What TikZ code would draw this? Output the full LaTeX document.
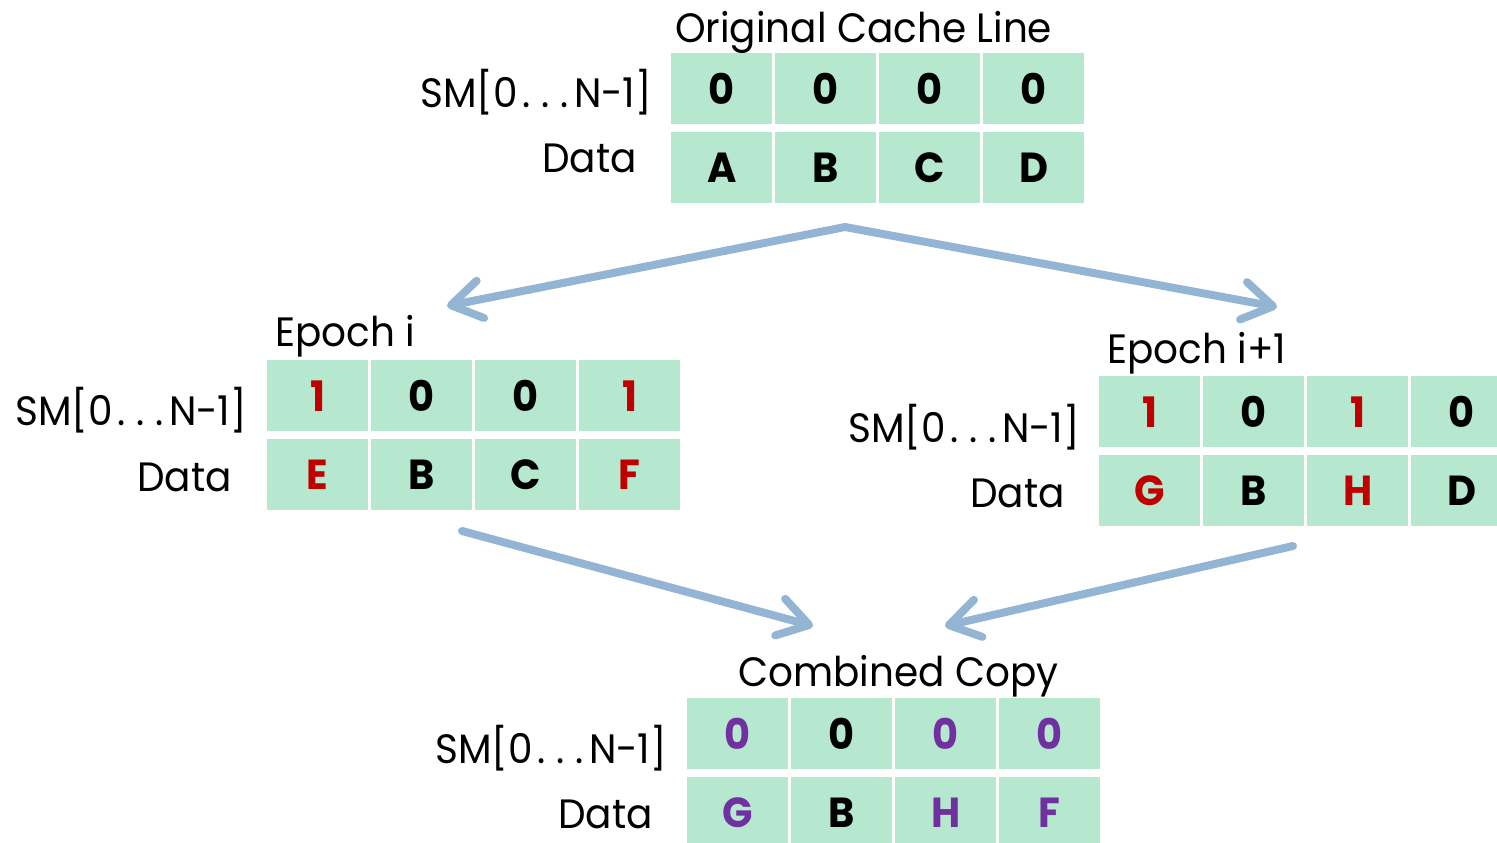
\documentclass[tikz,border=0pt]{standalone}
\usepackage{fontspec}
\setmainfont{Poppins}[FakeStretch=0.95]
\usetikzlibrary{arrows.meta}

\definecolor{cellfill}{RGB}{181,232,207}
\definecolor{hotred}{RGB}{192,0,0}
\definecolor{mergepurple}{RGB}{112,48,160}
\definecolor{flowblue}{RGB}{147,181,211}

% widely spaced ellipsis for the range label
\newcommand\widedots{\kern0.12em.\kern0.27em.\kern0.27em.\kern0.12em}
\newcommand\smrange{SM[0\widedots N-1]}

% one row of four cells: name prefix, left x, top y, contents
\newcommand\cellrow[4]{%
  \foreach \t [count=\i from 1] in {#4}
    \node[cell] (#1\i) at ({#2+(\i-1)*104},#3) {\t};}

\begin{document}
\begin{tikzpicture}[x=1pt,y=-1pt,
  cell/.style={fill=cellfill, minimum width=101pt, minimum height=71pt,
    inner sep=0pt, anchor=north west,
    font=\fontsize{42}{42}\selectfont\bfseries},
  rowlabel/.style={anchor=base east, inner sep=0pt,
    font=\fontsize{41}{41}\selectfont},
  title/.style={anchor=base west, inner sep=0pt,
    font=\fontsize{41}{41}\selectfont},
  flow/.style={draw=flowblue, line width=8pt, line cap=round,
    -{Straight Barb[length=30pt,width=38pt,round]}}]

\clip (0,0) rectangle (1497,843);

% original cache line
\node[title] (origT) at (675,43) {Original Cache Line};
\cellrow{os}{671}{53}{0,0,0,0}
\cellrow{od}{671}{132}{A,B,C,D}
\node[rowlabel] (origSM) at (652,107) {\smrange};
\node[rowlabel] (origD) at (637,172) {Data};

% epoch i
\node[title] (epT) at (275,346) {Epoch i};
\cellrow{es}{267}{360}{{\color{hotred}1},0,0,{\color{hotred}1}}
\cellrow{ed}{267}{439}{{\color{hotred}E},B,C,{\color{hotred}F}}
\node[rowlabel] (epSM) at (247,425) {\smrange};
\node[rowlabel] (epD) at (232,491) {Data};

% epoch i+1
\node[title] (enT) at (1107,363) {Epoch i+1};
\cellrow{ns}{1099}{376}{{\color{hotred}1},0,{\color{hotred}1},0}
\cellrow{nd}{1099}{455}{{\color{hotred}G},B,{\color{hotred}H},D}
\node[rowlabel] (enSM) at (1080,442) {\smrange};
\node[rowlabel] (enD) at (1065,507) {Data};

% combined copy
\node[title] (cbT) at (738,686) {Combined Copy};
\cellrow{cs}{687}{698}{{\color{mergepurple}0},0,{\color{mergepurple}0},{\color{mergepurple}0}}
\cellrow{cd}{687}{777}{{\color{mergepurple}G},B,{\color{mergepurple}H},{\color{mergepurple}F}}
\node[rowlabel] (cbSM) at (667,763) {\smrange};
\node[rowlabel] (cbD) at (653,828) {Data};

% flow arrows
\coordinate (split) at (845,227);
\coordinate (toEp) at (447,306);
\coordinate (toEn) at (1277,307);
\coordinate (fromEp) at (462,531);
\coordinate (fromEn) at (1293,546);
\coordinate (intoL) at (813,626);
\coordinate (intoR) at (945,626);
\draw[flow] (split) -- (toEp);
\draw[flow] (split) -- (toEn);
\draw[flow] (fromEp) -- (intoL);
\draw[flow] (fromEn) -- (intoR);
\end{tikzpicture}
\end{document}
